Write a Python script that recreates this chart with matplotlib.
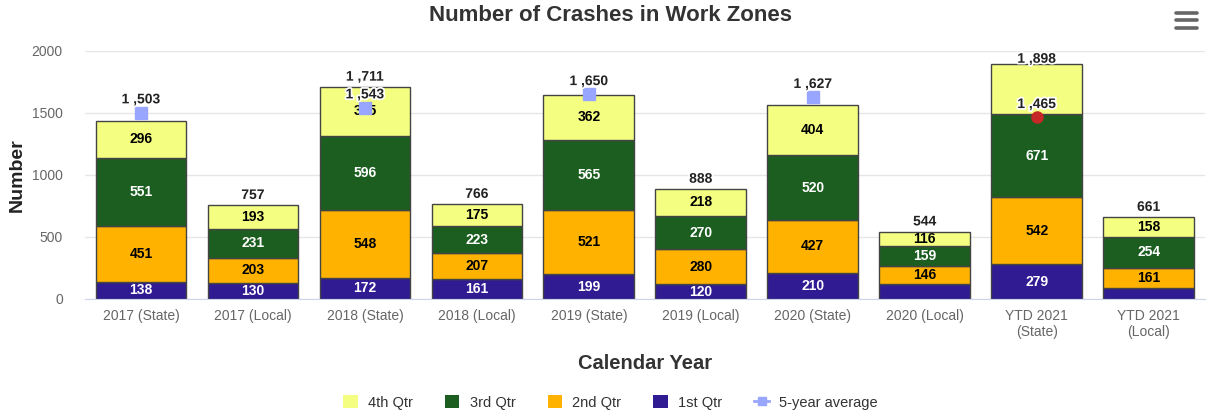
import matplotlib.pyplot as plt
import matplotlib.patheffects as pe
from matplotlib.lines import Line2D
from matplotlib.patches import Patch
import numpy as np

plt.rcParams['font.family'] = ['Liberation Sans', 'DejaVu Sans']

categories = ['2017 (State)', '2017 (Local)', '2018 (State)', '2018 (Local)',
              '2019 (State)', '2019 (Local)', '2020 (State)', '2020 (Local)',
              'YTD 2021\n(State)', 'YTD 2021\n(Local)']
q1 = [138, 130, 172, 161, 199, 120, 210, 123, 279, 88]
q2 = [451, 203, 548, 207, 521, 280, 427, 146, 542, 161]
q3 = [551, 231, 596, 223, 565, 270, 520, 159, 671, 254]
q4 = [296, 193, 395, 175, 362, 218, 404, 116, 406, 158]
avg_idx = [0, 2, 4, 6, 8]
avg_vals = [1503, 1543, 1650, 1627, 1465]
avg_text = ['1 ,503', '1 ,543', '1 ,650', '1 ,627', '1 ,465']

# labels that the original chart hides (overlaps)
hidden = {('q1', 7), ('q1', 9), ('q4', 8)}
show_total = [1, 2, 3, 5, 7, 8, 9]

colors = {'q1': '#311b92', 'q2': '#ffb300', 'q3': '#1b5e20', 'q4': '#f4ff81'}
names = {'q1': '1st Qtr', 'q2': '2nd Qtr', 'q3': '3rd Qtr', 'q4': '4th Qtr'}
txtcol = {'q1': 'white', 'q2': 'black', 'q3': 'white', 'q4': 'black'}

fig = plt.figure(figsize=(12.21, 4.17), dpi=100)
ax = fig.add_axes([0.0696, 0.283, 0.917, 0.595])

x = np.arange(len(categories))
series = [('q1', q1), ('q2', q2), ('q3', q3), ('q4', q4)]
bottom = np.zeros(len(categories))
for key, vals in series:
    vals = np.array(vals)
    ax.bar(x, vals, bottom=bottom, width=0.81, color=colors[key],
           edgecolor='#444444', linewidth=1, zorder=2)
    for i, v in enumerate(vals):
        if (key, i) in hidden:
            continue
        ax.text(x[i], bottom[i] + v / 2, str(v), ha='center', va='center',
                fontsize=10, fontweight='bold', color=txtcol[key], zorder=4)
    bottom += vals

totals = bottom
for i in show_total:
    t = int(totals[i])
    s = '{:,}'.format(t).replace(',', ' ,')
    # keep label inside plot area like highcharts does
    ax.text(x[i], min(t + 25, 1880), s, ha='center', va='bottom', fontsize=10,
            fontweight='bold', color='#222222', zorder=5,
            path_effects=[pe.withStroke(linewidth=2.5, foreground='white')])

for j, (i, v) in enumerate(zip(avg_idx, avg_vals)):
    if j == len(avg_vals) - 1:
        ax.plot(x[i], v, 'o', color='#c62828', markersize=8, zorder=6)
    else:
        ax.plot(x[i], v, 's', color='#99a6ff', markersize=8, zorder=6)
    ax.text(x[i], v + 50, avg_text[j], ha='center', va='bottom', fontsize=10,
            fontweight='bold', color='#222222', zorder=7,
            path_effects=[pe.withStroke(linewidth=2.5, foreground='white')])

ax.set_xlim(-0.5, len(categories) - 0.5)
ax.set_ylim(0, 2000)
ax.set_yticks([0, 500, 1000, 1500, 2000])
ax.yaxis.grid(True, color='#e6e6e6', linewidth=1)
ax.set_axisbelow(True)
for s in ['top', 'right', 'left']:
    ax.spines[s].set_visible(False)
ax.spines['bottom'].set_color('#ccd6eb')
ax.tick_params(axis='y', length=0, labelsize=10, labelcolor='#666666', pad=16)
ax.tick_params(axis='x', length=0, labelsize=10, labelcolor='#666666', pad=7)
ax.set_xticks(x)
ax.set_xticklabels(categories)

ax.set_ylabel('Number', fontsize=14, fontweight='bold', color='#222222', labelpad=4)
ax.set_xlabel('Calendar Year', fontsize=14.5, fontweight='bold', color='#333333', labelpad=11)
fig.text(0.5, 0.962, 'Number of Crashes in Work Zones', ha='center', va='center',
         fontsize=16, fontweight='bold', color='#333333')

# menu icon
for yy in [0.968, 0.951, 0.934]:
    fig.add_artist(Line2D([0.9635, 0.9805], [yy, yy], color='#666666',
                          linewidth=2.6, solid_capstyle='round'))

handles = [Patch(facecolor=colors[k], edgecolor='none') for k in ['q4', 'q3', 'q2', 'q1']]
handles.append(Line2D([0], [0], color='#99a6ff', marker='s', markersize=6, linewidth=2))
labels = [names[k] for k in ['q4', 'q3', 'q2', 'q1']] + ['5-year average']
fig.legend(handles, labels, loc='center', bbox_to_anchor=(0.5, 0.035), ncol=5,
           frameon=False, fontsize=10.5, handlelength=1.0, handleheight=1.0,
           columnspacing=2.2, handletextpad=0.7, labelcolor='#333333')

fig.savefig('out.png', dpi=100)
